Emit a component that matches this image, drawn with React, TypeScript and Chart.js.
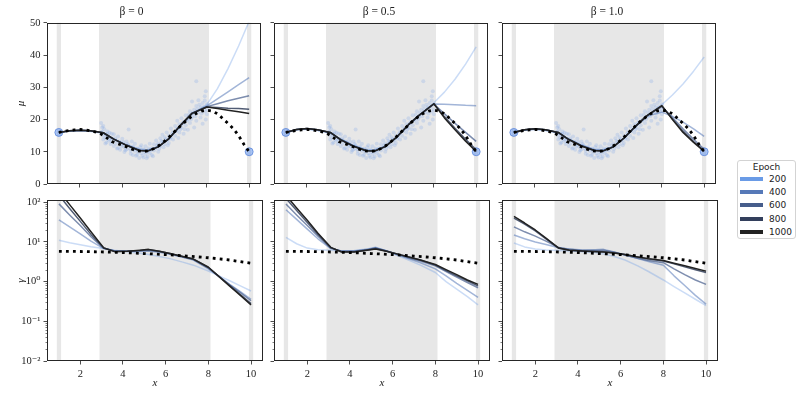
import React, { useEffect, useRef } from 'react';
import { Chart, registerables } from 'chart.js';

Chart.register(...registerables);

// ---------------- data ----------------
const panelTitles = ['β = 0', 'β = 0.5', 'β = 1.0'];
const epochLabels = ['200', '400', '600', '800', '1000'];
const epochColors = ['#6a9be6', '#5679b8', '#465d8b', '#333f5c', '#222222'];
const epochAlpha = [0.35, 0.55, 0.7, 0.85, 1];

const xTickValues = [2, 4, 6, 8, 10];
const muTickValues = [0, 10, 20, 30, 40, 50];
const gammaTickValues = [0.01, 0.1, 1, 10, 100];
const gammaMinorTicks = [
  0.02, 0.03, 0.04, 0.05, 0.06, 0.07, 0.08, 0.09,
  0.2, 0.3, 0.4, 0.5, 0.6, 0.7, 0.8, 0.9,
  2, 3, 4, 5, 6, 7, 8, 9,
  20, 30, 40, 50, 60, 70, 80, 90,
];
const bandStart = [0.9, 2.9, 9.9];
const bandEnd = [1.1, 8.1, 10.1];

const fitX = [1, 1.5, 2, 2.5, 3.1, 3.6, 4.2, 4.8, 5.2, 5.7, 6.2, 6.8, 7.3, 8.0, 8.5, 9, 9.5, 10];

// mean fits (epochs 200, 400, 600, 800, 1000)
const muBeta0 = [
  [16.0, 16.4, 16.6, 16.3, 15.7, 13.9, 12.2, 10.9, 10.6, 11.6, 13.9, 18.2, 21.6, 24.6, 29.6, 35.8, 42.8, 50.5],
  [16.0, 16.4, 16.6, 16.4, 15.8, 13.9, 12.1, 10.6, 10.4, 11.6, 14.1, 18.5, 22.0, 24.2, 26.4, 28.6, 30.8, 33.0],
  [16.0, 16.5, 16.7, 16.5, 15.9, 13.9, 12.0, 10.5, 10.3, 11.6, 14.1, 18.6, 22.0, 24.0, 24.9, 25.8, 26.6, 27.4],
  [16.0, 16.5, 16.7, 16.5, 15.9, 13.9, 12.0, 10.4, 10.2, 11.5, 14.0, 18.5, 21.9, 23.9, 23.7, 23.5, 23.4, 23.2],
  [16.0, 16.5, 16.7, 16.5, 15.9, 13.9, 12.0, 10.4, 10.2, 11.5, 14.0, 18.5, 21.9, 23.9, 23.4, 22.9, 22.4, 21.9],
];
const muBeta05 = [
  [16.0, 16.8, 17.0, 16.6, 15.8, 13.9, 12.0, 10.7, 10.6, 11.7, 14.2, 18.2, 21.3, 25.2, 28.5, 32.5, 37.2, 42.5],
  [16.0, 16.8, 17.1, 16.7, 15.9, 13.8, 11.9, 10.5, 10.4, 11.7, 14.3, 18.3, 21.3, 24.8, 24.7, 24.6, 24.4, 24.3],
  [16.0, 16.9, 17.2, 16.8, 16.0, 13.8, 11.8, 10.4, 10.3, 11.6, 14.3, 18.4, 21.3, 24.8, 21.8, 18.8, 16.0, 13.2],
  [16.0, 16.9, 17.2, 16.8, 16.0, 13.7, 11.7, 10.3, 10.2, 11.6, 14.3, 18.4, 21.3, 24.9, 20.9, 17.3, 13.9, 10.6],
  [16.0, 16.9, 17.2, 16.8, 16.0, 13.7, 11.7, 10.3, 10.2, 11.6, 14.3, 18.4, 21.3, 24.9, 20.5, 16.8, 13.3, 10.1],
];
const muBeta1 = [
  [16.0, 16.7, 17.0, 16.6, 15.8, 13.9, 12.1, 10.8, 10.6, 11.6, 14.1, 18.0, 21.2, 24.6, 27.6, 31.0, 35.0, 39.4],
  [16.0, 16.7, 17.0, 16.7, 15.9, 13.9, 12.0, 10.6, 10.4, 11.6, 14.2, 18.1, 21.0, 22.3, 21.0, 19.2, 17.1, 14.8],
  [16.0, 16.8, 17.1, 16.8, 16.0, 13.8, 11.9, 10.5, 10.3, 11.5, 14.2, 18.2, 21.2, 24.0, 20.6, 17.1, 13.9, 10.8],
  [16.0, 16.8, 17.1, 16.8, 16.0, 13.8, 11.8, 10.4, 10.2, 11.5, 14.2, 18.2, 21.2, 24.2, 20.2, 16.4, 13.2, 10.3],
  [16.0, 16.8, 17.1, 16.8, 16.0, 13.8, 11.8, 10.4, 10.2, 11.5, 14.2, 18.2, 21.2, 24.3, 20.0, 16.0, 12.9, 10.1],
];

// noise fits (epochs 200, 400, 600, 800, 1000)
const gammaBeta0 = [
  [11, 9.5, 8.5, 7.6, 6.8, 6.2, 5.7, 5.2, 4.8, 4.3, 3.8, 3.1, 2.6, 1.85, 1.4, 1.05, 0.78, 0.58],
  [36, 24, 16, 10.5, 6.8, 6.0, 5.8, 5.8, 5.9, 5.5, 4.9, 4.1, 3.5, 2.1, 1.33, 0.85, 0.56, 0.36],
  [91, 48, 26, 13.5, 6.9, 5.9, 5.8, 6.0, 6.2, 5.7, 5.0, 4.2, 3.6, 2.2, 1.35, 0.83, 0.53, 0.33],
  [150, 70, 33, 15.5, 7.0, 5.8, 5.8, 6.1, 6.4, 5.8, 5.1, 4.3, 3.7, 2.3, 1.35, 0.8, 0.47, 0.28],
  [190, 87, 40, 18, 7.1, 5.7, 5.8, 6.2, 6.5, 5.8, 5.1, 4.3, 3.7, 2.3, 1.34, 0.77, 0.45, 0.26],
];
const gammaBeta05 = [
  [13, 9, 7, 6.4, 6.2, 6.0, 6.1, 6.6, 7.4, 6.0, 4.6, 3.4, 2.6, 1.7, 1.0, 0.65, 0.42, 0.26],
  [65, 37, 21, 12, 6.8, 5.9, 5.9, 6.5, 7.2, 6.0, 4.8, 3.7, 3.0, 2.1, 1.4, 0.9, 0.6, 0.40],
  [90, 48, 26, 14, 7.0, 5.8, 5.8, 6.4, 7.0, 5.9, 4.9, 3.9, 3.3, 2.5, 1.8, 1.3, 0.95, 0.70],
  [125, 62, 31, 15.5, 7.2, 5.7, 5.7, 6.3, 6.8, 5.9, 5.0, 4.1, 3.5, 2.6, 1.9, 1.4, 1.05, 0.78],
  [150, 72, 35, 16.5, 7.3, 5.6, 5.6, 6.2, 6.6, 5.8, 5.0, 4.1, 3.5, 2.7, 2.0, 1.5, 1.1, 0.85],
];
const gammaBeta1 = [
  [9.4, 7.5, 6.6, 6.3, 6.1, 5.9, 5.7, 5.4, 5.0, 4.3, 3.5, 2.5, 1.8, 1.1, 0.75, 0.52, 0.36, 0.25],
  [15, 12, 10, 8.6, 7.1, 6.6, 6.3, 6.4, 6.5, 5.6, 4.7, 3.8, 3.2, 2.6, 1.4, 0.8, 0.45, 0.27],
  [24, 18, 14, 10.5, 7.2, 6.5, 6.1, 6.1, 6.2, 5.5, 4.7, 3.9, 3.4, 3.0, 2.1, 1.5, 1.1, 0.85],
  [40, 28, 19, 12, 6.9, 6.2, 5.9, 5.8, 5.7, 5.3, 4.8, 4.2, 3.7, 3.3, 2.8, 2.35, 2.0, 1.7],
  [44, 30, 20, 12.5, 7.0, 6.2, 5.9, 5.7, 5.6, 5.3, 4.8, 4.2, 3.8, 3.4, 2.9, 2.5, 2.15, 1.84],
];

// ground truth
const truthMuX = [1, 1.25, 1.5, 1.75, 2, 2.25, 2.5, 2.75, 3, 3.25, 3.5, 3.75, 4, 4.25, 4.5, 4.75, 5, 5.25, 5.5, 5.75, 6, 6.25, 6.5, 6.75, 7, 7.25, 7.5, 7.75, 8, 8.25, 8.5, 8.75, 9, 9.25, 9.5, 9.75, 10];
const truthMu = [16.0, 16.3, 16.6, 16.8, 16.9, 16.8, 16.5, 16.1, 15.5, 14.4, 13.2, 12.6, 12.0, 11.4, 10.7, 10.3, 10.1, 10.3, 11.0, 12.0, 13.3, 14.8, 16.4, 18.0, 19.5, 20.8, 21.9, 22.6, 22.9, 22.6, 21.8, 20.3, 18.8, 17.2, 15.0, 12.3, 10.0];
const truthGammaX = [1, 2, 3, 4, 5, 6, 7, 8, 9, 10];
const truthGamma = [5.8, 5.75, 5.6, 5.4, 5.1, 4.8, 4.4, 4.0, 3.5, 2.9];

// observations
const endX = [1, 10];
const endY = [16, 10];
const obsX = [
  3.0, 3.05, 3.05, 3.1, 3.1, 3.15, 3.2, 3.2, 3.25, 3.3, 3.3, 3.35, 3.4, 3.45, 3.5, 3.5,
  3.6, 3.6, 3.7, 3.7, 3.8, 3.8, 3.9, 3.9, 4.0, 4.0, 4.1, 4.1, 4.2, 4.2, 4.3, 4.3, 4.4, 4.4,
  4.5, 4.5, 4.6, 4.6, 4.7, 4.7, 4.8, 4.8, 4.9, 4.9, 5.0, 5.0, 5.1, 5.1, 5.2, 5.2, 5.3, 5.3, 5.4, 5.4, 5.5, 5.5,
  5.6, 5.6, 5.7, 5.7, 5.8, 5.8, 5.9, 5.9, 6.0, 6.0, 6.1, 6.1, 6.2, 6.2, 6.3, 6.3, 6.4, 6.4,
  6.5, 6.5, 6.6, 6.6, 6.7, 6.7, 6.8, 6.8, 6.9, 6.9, 7.0, 7.0, 7.1, 7.1, 7.2, 7.2,
  7.3, 7.3, 7.4, 7.4, 7.5, 7.5, 7.5, 7.6, 7.6, 7.7, 7.7, 7.8, 7.8, 7.9, 7.9, 7.95, 7.95, 8.0, 8.0,
  3.0, 3.1, 3.2, 3.3, 3.4, 3.5,
  3.65, 3.75, 3.85, 3.95, 4.05, 4.15, 4.25, 4.35, 4.45,
  4.55, 4.65, 4.75, 4.85, 4.95, 5.05, 5.15, 5.25, 5.35, 5.45,
  5.65, 5.75, 5.85, 5.95, 6.05, 6.15, 6.25, 6.35,
  6.55, 6.65, 6.75, 6.85, 6.95, 7.05, 7.15, 7.25,
  7.35, 7.45, 7.55, 7.65, 7.75, 7.85, 7.9, 8.0,
];
const obsY = [
  18.9, 17.5, 16.2, 15.0, 13.8, 17.0, 15.6, 14.3, 12.9, 16.3, 14.8, 13.5, 15.9, 12.4, 14.1, 13.0,
  15.4, 11.8, 13.6, 12.5, 14.7, 11.2, 12.9, 10.6, 14.0, 12.2, 11.4, 9.9, 13.2, 10.8, 16.9, 12.0, 10.3, 9.4,
  11.6, 9.0, 12.5, 10.2, 9.1, 11.0, 8.1, 10.4, 9.5, 12.0, 8.2, 10.8, 9.3, 11.7, 8.5, 10.0, 12.5, 9.6, 11.1, 9.0, 12.3, 10.4,
  13.5, 11.2, 10.0, 12.6, 14.2, 11.8, 13.0, 15.3, 12.3, 14.5, 16.0, 13.4, 15.0, 12.7, 17.2, 14.6, 16.1, 13.8,
  18.0, 15.0, 17.1, 19.6, 16.0, 18.5, 20.4, 17.5, 15.6, 19.2, 21.3, 18.2, 16.8, 20.0, 22.6, 18.9,
  25.6, 20.8, 23.0, 17.5, 31.9, 24.2, 19.6, 22.2, 26.0, 20.6, 23.8, 25.1, 18.7, 27.2, 22.5, 28.8, 20.0, 24.7, 21.6,
  16.0, 18.0, 12.6, 15.4, 13.9, 15.6,
  14.2, 11.0, 13.2, 11.7, 13.0, 10.5, 12.4, 11.0, 13.2,
  10.8, 8.8, 10.0, 11.4, 8.8, 9.9, 8.0, 11.0, 10.5, 8.6,
  12.0, 10.9, 13.3, 11.4, 13.9, 12.0, 14.0, 15.6,
  16.4, 14.3, 17.0, 18.8, 17.0, 19.6, 21.5, 20.1,
  22.0, 21.0, 23.2, 24.6, 21.9, 23.9, 25.9, 23.1,
];

// ---------------- layout ----------------
const PLOT_W = 216;
const PLOT_H = 161;
const plotLefts = [47, 274, 502];
const X_MIN = 0.44;
const X_MAX = 10.56;
const SERIF = "'Liberation Serif', 'DejaVu Serif', serif";

const muSets = [muBeta0, muBeta05, muBeta1];
const gammaSets = [gammaBeta0, gammaBeta05, gammaBeta1];

function rgba(hex: string, a: number) {
  const n = parseInt(hex.slice(1), 16);
  return `rgba(${(n >> 16) & 255},${(n >> 8) & 255},${n & 255},${a})`;
}

const supMap: Record<string, string> = {
  '-': '⁻', '0': '⁰', '1': '¹', '2': '²', '3': '³', '4': '⁴', '5': '⁵', '6': '⁶', '7': '⁷', '8': '⁸', '9': '⁹',
};
function powLabel(v: number) {
  const e = Math.round(Math.log10(v));
  return '10' + String(e).split('').map((c) => supMap[c]).join('');
}

function geometry(row: number, col: number) {
  const yW = col === 0 ? 47 : 6;
  const left = plotLefts[col] - yW;
  const width = yW + PLOT_W + 3;
  if (row === 0) return { left, top: 0, width, height: 192, yW, xH: 8, padTop: 0 };
  return { left, top: 188, width, height: 12 + PLOT_H + 30, yW, xH: 30, padTop: 12 };
}

function makeChart(canvas: HTMLCanvasElement, row: number, col: number) {
  const g = geometry(row, col);
  const isTop = row === 0;
  const series = isTop ? muSets[col] : gammaSets[col];
  const datasets: any[] = [];

  datasets.push({
    label: 'truth',
    data: isTop
      ? truthMuX.map((x, i) => ({ x, y: truthMu[i] }))
      : truthGammaX.map((x, i) => ({ x, y: truthGamma[i] })),
    showLine: true,
    borderColor: '#000',
    borderWidth: 2.8,
    borderDash: [2.8, 4.2],
    pointRadius: 0,
    clip: 0,
    order: 0,
  });
  for (let k = 4; k >= 0; k--) {
    datasets.push({
      label: epochLabels[k],
      data: fitX.map((x, i) => ({ x, y: series[k][i] })),
      showLine: true,
      borderColor: rgba(epochColors[k], epochAlpha[k]),
      borderWidth: 1.5,
      borderJoinStyle: 'round',
      pointRadius: 0,
      clip: 0,
      order: 5 - k,
    });
  }
  if (isTop) {
    datasets.push({
      label: 'ends',
      data: endX.map((x, i) => ({ x, y: endY[i] })),
      pointRadius: 4,
      backgroundColor: 'rgba(100,149,237,0.55)',
      borderColor: 'rgba(80,125,215,0.7)',
      borderWidth: 1,
      order: 6,
    });
    datasets.push({
      label: 'obs',
      data: obsX.map((x, i) => ({ x, y: obsY[i] })),
      pointRadius: 2,
      backgroundColor: 'rgba(100,149,237,0.2)',
      borderWidth: 0,
      order: 7,
    });
  }

  const zeroPad = (s: any) => {
    s.paddingTop = 0; s.paddingBottom = 0; s.paddingLeft = 0; s.paddingRight = 0;
  };

  const deco = {
    id: 'deco',
    beforeDatasetsDraw(chart: any) {
      const { ctx, chartArea: a, scales } = chart;
      ctx.save();
      ctx.fillStyle = '#e7e7e7';
      bandStart.forEach((s, i) => {
        const x0 = scales.x.getPixelForValue(s);
        const x1 = scales.x.getPixelForValue(bandEnd[i]);
        ctx.fillRect(x0, a.top, x1 - x0, a.bottom - a.top);
      });
      ctx.restore();
    },
    afterDatasetsDraw(chart: any) {
      const { ctx, chartArea: a, scales } = chart;
      ctx.save();
      ctx.strokeStyle = '#262626';
      ctx.lineWidth = 1;
      const l = Math.round(a.left) + 0.5;
      const t = Math.round(a.top) + 0.5;
      const r = Math.round(a.right) - 0.5;
      const b = Math.round(a.bottom) - 0.5;
      ctx.strokeRect(l, t, r - l, b - t);
      if (!isTop) {
        ctx.lineWidth = 0.6;
        gammaMinorTicks.forEach((v) => {
          const y = Math.round(scales.y.getPixelForValue(v)) + 0.5;
          if (y < a.top || y > a.bottom) return;
          ctx.beginPath();
          ctx.moveTo(l - 2, y);
          ctx.lineTo(l, y);
          ctx.stroke();
        });
      }
      ctx.restore();
    },
  };

  const tickFont = { family: SERIF, size: 10.5 };

  return new Chart(canvas, {
    type: 'scatter',
    data: { datasets },
    plugins: [deco],
    options: {
      animation: false,
      responsive: false,
      devicePixelRatio: 1,
      events: [],
      layout: { padding: { top: g.padTop, right: 3, left: 0, bottom: 0 } },
      plugins: {
        legend: { display: false },
        tooltip: { enabled: false },
        title: {
          display: isTop,
          text: panelTitles[col],
          color: '#222',
          font: { family: SERIF, size: 11.5, weight: 'normal' },
          padding: { top: 5, bottom: 4 },
        },
      },
      scales: {
        x: {
          type: 'linear',
          min: X_MIN,
          max: X_MAX,
          afterBuildTicks: (s: any) => { s.ticks = xTickValues.map((v) => ({ value: v })); },
          afterFit: (s: any) => { s.height = g.xH; zeroPad(s); },
          ticks: {
            display: !isTop,
            color: '#222',
            font: tickFont,
            padding: 3,
            maxRotation: 0,
            autoSkip: false,
            callback: (v: any) => String(v),
          },
          grid: { drawOnChartArea: false, drawTicks: true, tickLength: 3.5, tickColor: '#222', tickWidth: 0.8 },
          border: { display: false },
          title: {
            display: !isTop,
            text: 'x',
            color: '#222',
            font: { family: SERIF, size: 11, style: 'italic' },
            padding: { top: 0, bottom: 1 },
          },
        },
        y: isTop
          ? {
              type: 'linear',
              min: 0,
              max: 50,
              afterBuildTicks: (s: any) => { s.ticks = muTickValues.map((v) => ({ value: v })); },
              afterFit: (s: any) => { s.width = g.yW; zeroPad(s); },
              ticks: { display: col === 0, color: '#222', font: tickFont, padding: 3, autoSkip: false, callback: (v: any) => String(v) },
              grid: { drawOnChartArea: false, drawTicks: true, tickLength: 3.5, tickColor: '#222', tickWidth: 0.8 },
              border: { display: false },
              title: {
                display: col === 0,
                text: 'μ',
                color: '#222',
                font: { family: SERIF, size: 11, style: 'italic' },
                padding: { top: 15, bottom: 0 },
              },
            }
          : {
              type: 'logarithmic',
              min: 0.01,
              max: 114,
              afterBuildTicks: (s: any) => { s.ticks = gammaTickValues.map((v) => ({ value: v })); },
              afterFit: (s: any) => { s.width = g.yW; zeroPad(s); },
              ticks: { display: col === 0, color: '#222', font: tickFont, padding: 3, autoSkip: false, callback: (v: any) => powLabel(Number(v)) },
              grid: { drawOnChartArea: false, drawTicks: true, tickLength: 3.5, tickColor: '#222', tickWidth: 0.8 },
              border: { display: false },
              title: {
                display: col === 0,
                text: 'γ',
                color: '#222',
                font: { family: SERIF, size: 11, style: 'italic' },
                padding: { top: 15, bottom: 0 },
              },
            },
      },
    } as any,
  });
}

const panels = [
  [0, 0], [0, 1], [0, 2],
  [1, 0], [1, 1], [1, 2],
];

export default function App() {
  const refs = useRef<(HTMLCanvasElement | null)[]>([]);

  useEffect(() => {
    const charts = panels.map(([r, c], i) => makeChart(refs.current[i] as HTMLCanvasElement, r, c));
    return () => charts.forEach((ch) => ch.destroy());
  }, []);

  return (
    <div style={{ position: 'fixed', left: 0, top: 0, width: 797, height: 399, background: '#fff', overflow: 'hidden' }}>
      {panels.map(([r, c], i) => {
        const g = geometry(r, c);
        return (
          <canvas
            key={i}
            ref={(el) => { refs.current[i] = el; }}
            width={g.width}
            height={g.height}
            style={{ position: 'absolute', left: g.left, top: g.top, width: g.width, height: g.height }}
          />
        );
      })}
      <div
        style={{
          position: 'absolute', left: 737, top: 160, width: 57, height: 77,
          border: '1px solid #d3d3d3', borderRadius: 3, background: '#fff',
          fontFamily: "'DejaVu Sans', sans-serif", fontSize: 9, color: '#222',
        }}
      >
        <div style={{ position: 'absolute', left: 0, top: 0, width: '100%', textAlign: 'center', lineHeight: '12px' }}>Epoch</div>
        {epochLabels.map((e, i) => (
          <div key={e} style={{ position: 'absolute', left: 2, top: 12 + i * 13.2, height: 12, width: 54 }}>
            <div style={{ position: 'absolute', left: 0, top: 4, width: 23, height: 4, background: epochColors[i] }} />
            <div style={{ position: 'absolute', left: 29, top: 0, lineHeight: '12px' }}>{e}</div>
          </div>
        ))}
      </div>
    </div>
  );
}
